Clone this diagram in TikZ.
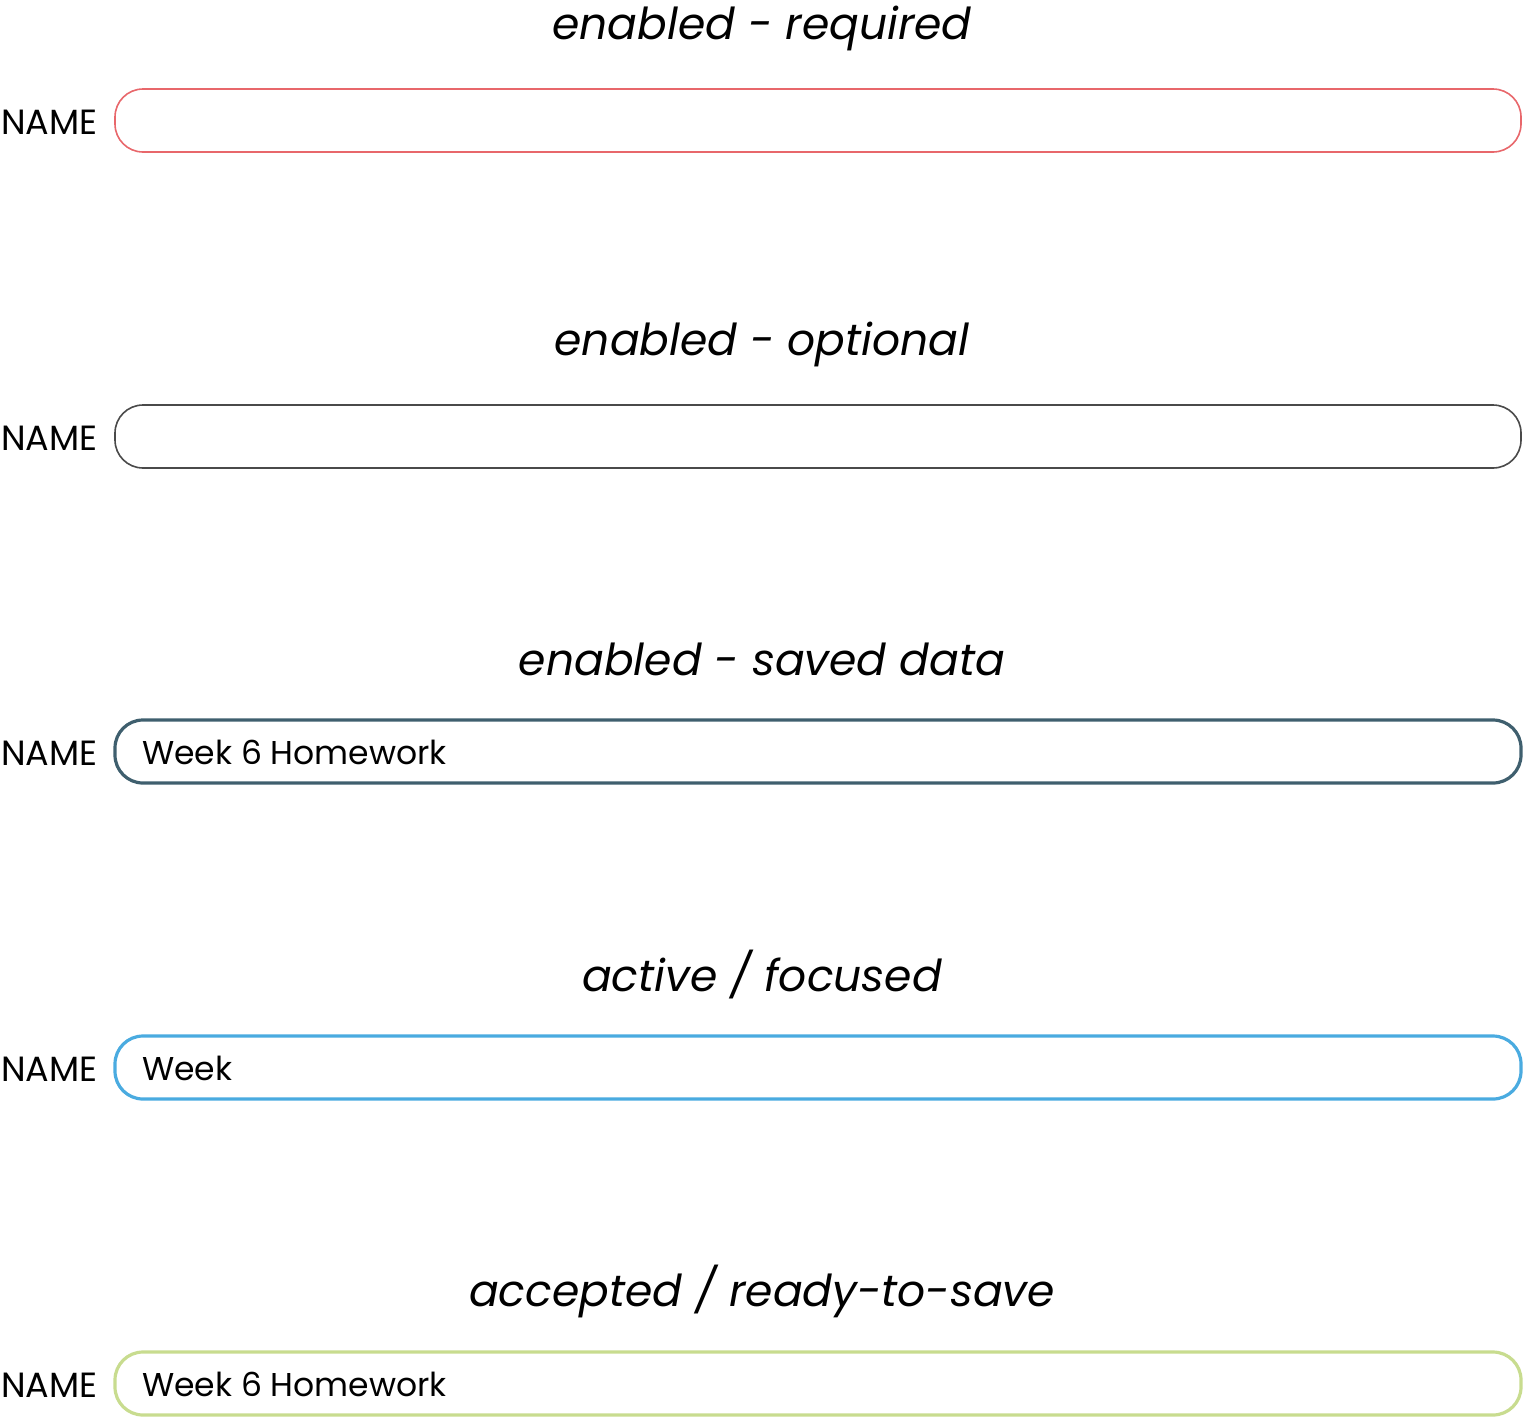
\documentclass[tikz,border=0pt]{standalone}
\usepackage{fontspec}
\setmainfont{Poppins}
\definecolor{cred}{HTML}{E8676B}
\definecolor{cgray}{HTML}{4A4A4A}
\definecolor{cslate}{HTML}{3F5F6E}
\definecolor{cblue}{HTML}{4AABE0}
\definecolor{cgreen}{HTML}{C8DC8F}
\begin{document}
\begin{tikzpicture}[x=1pt,y=-1pt,
  title/.style={font=\fontsize{44}{50}\selectfont\itshape, anchor=center},
  lbl/.style={font=\fontsize{35}{40}\selectfont, anchor=west, inner sep=0pt},
  val/.style={font=\fontsize{33}{38}\selectfont, anchor=west, inner sep=0pt},
  field/.style={rounded corners=28pt}]
\useasboundingbox (0,0) rectangle (1524,1417);
\foreach \i/\y/\t/\c/\w in {1/121/{enabled - required}/cred/1.6,2/437/{enabled - optional}/cgray/1.6,3/752/{enabled - saved data}/cslate/3.2,4/1068/{active / focused}/cblue/3.2,5/1384/{accepted / ready-to-save}/cgreen/3.2}{
  \node[title] (t\i) at (762,\y-93) {\t};
  \node[lbl] (n\i) at (1,\y+1) {NAME};
  \draw[field, draw=\c, line width=\w pt] (115,\y-32) rectangle (1521,\y+31);
}
\node[val] (v3) at (142,752) {Week 6 Homework};
\node[val] (v4) at (142,1068) {Week};
\node[val] (v5) at (142,1384) {Week 6 Homework};
\end{tikzpicture}
\end{document}
